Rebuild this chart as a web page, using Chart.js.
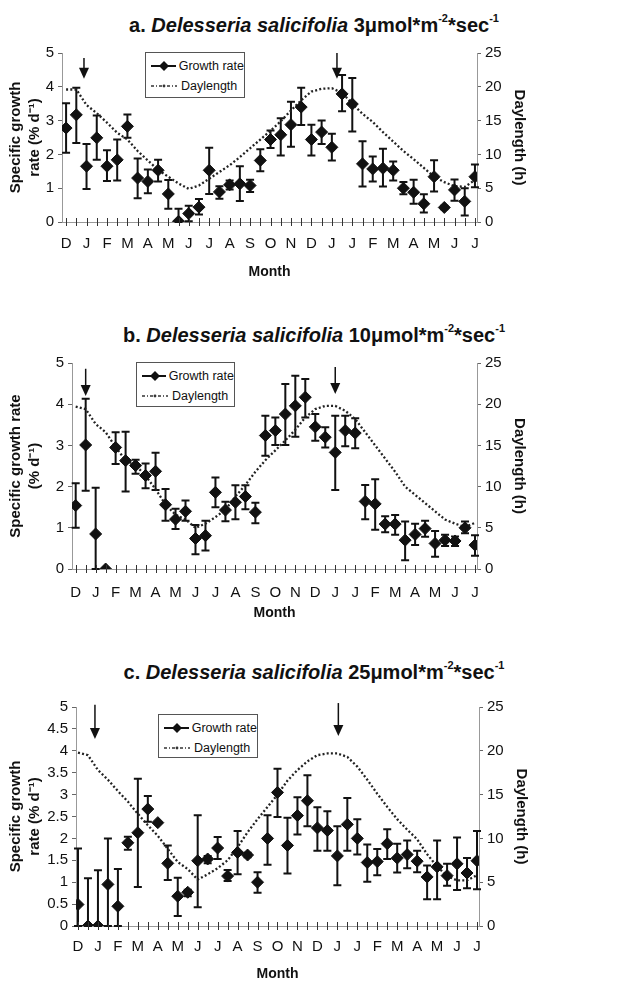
<!DOCTYPE html>
<html>
<head>
<meta charset="utf-8">
<script src="https://cdn.jsdelivr.net/npm/chart.js@4.4.0/dist/chart.umd.min.js"></script>
<style>
  body { margin: 0; background: #fff; width: 634px; height: 983px; position: relative; overflow: hidden;
         font-family: "Liberation Sans", Arial, sans-serif; color: #111; }
  .wrap { position: absolute; left: 0; width: 634px; }
  .title { position: absolute; left: 0; width: 628px; text-align: center; font-weight: bold; font-size: 20px; line-height: 22px; }
  .title sup { font-size: 11px; line-height: 0; position: relative; top: -2px; }
  .legend { position: absolute; border: 1px solid #555; background: #fff; font-size: 12.5px; box-sizing: border-box; padding: 3px 0 0 4px; }
  .legend div { height: 20px; display: flex; align-items: center; white-space: nowrap; }
  .legend svg { margin-right: 3px; }
</style>
</head>
<body>
<script>
// x axis: one point every half month, a letter on every second one
const monthLabels = ['D','J','F','M','A','M','J','J','A','S','O','N','D','J','J','F','M','A','M','J','J'];

// a. 3 umol
const growthA = [2.78, 3.17, 1.65, 2.49, 1.65, 1.84, 2.83, 1.30, 1.20, 1.53, 0.83, 0.02, 0.25, 0.44, 1.53, 0.89, 1.10, 1.13, 1.08, 1.82, 2.44,
                 2.58, 2.88, 3.40, 2.44, 2.66, 2.21, 3.79, 3.49, 1.72, 1.57, 1.59, 1.53, 1.00, 0.88, 0.54, 1.34, 0.43, 0.95, 0.61, 1.34];
const highA = [3.51, 3.97, 2.31, 3.15, 2.12, 2.44, 3.18, 1.88, 1.55, 1.84, 1.24, 0.39, 0.48, 0.68, 2.20, 1.06, 1.23, 1.65, 1.25, 2.15, 2.71,
               3.07, 3.56, 3.97, 2.88, 3.00, 2.61, 4.35, 4.26, 2.39, 1.94, 2.17, 1.79, 1.18, 1.25, 0.82, 1.83, 0.48, 1.26, 1.00, 1.70];
const lowA = [2.05, 2.34, 0.98, 1.84, 1.21, 1.23, 2.49, 0.70, 0.85, 1.20, 0.39, 0.00, 0.02, 0.22, 0.83, 0.69, 0.96, 0.62, 0.89, 1.50, 2.19,
              1.97, 2.23, 2.87, 1.97, 2.31, 1.82, 3.28, 2.68, 1.05, 1.20, 1.05, 1.23, 0.82, 0.54, 0.28, 0.90, 0.38, 0.63, 0.19, 1.03];
const dayA = [19.6, 19.6, 17.3, 16.1, 14.7, 13.2, 12.2, 10.5, 9.1, 7.7, 6.7, 5.7, 4.9, 5.4, 6.4, 7.4, 8.4, 9.6, 10.9, 12.2, 13.5,
              14.9, 16.5, 18.0, 19.3, 19.7, 19.8, 19.1, 17.5, 16.0, 14.8, 13.3, 11.9, 10.5, 9.3, 8.0, 6.7, 5.9, 5.3, 5.2, 6.2];

// b. 10 umol
const growthB = [1.54, 3.01, 0.85, 0.00, 2.95, 2.63, 2.51, 2.27, 2.37, 1.56, 1.21, 1.40, 0.74, 0.81, 1.86, 1.43, 1.62, 1.76, 1.38, 3.24, 3.36,
                 3.76, 3.96, 4.17, 3.45, 3.20, 2.83, 3.36, 3.30, 1.64, 1.58, 1.09, 1.09, 0.70, 0.84, 0.98, 0.62, 0.70, 0.68, 1.00, 0.58];
const highB = [2.08, 4.13, 1.97, null, 3.32, 3.33, 2.65, 2.56, 2.82, 1.94, 1.46, 1.66, 1.07, 1.17, 2.22, 1.63, 2.03, 2.03, 1.61, 3.72, 3.68,
               4.49, 4.69, 4.61, 3.76, 3.44, 3.72, 3.72, 3.66, 2.04, 2.18, 1.28, 1.31, 1.15, 1.10, 1.17, 0.92, 0.83, 0.79, 1.15, 0.82];
const lowB = [1.00, 1.90, 0.00, null, 2.55, 1.88, 2.31, 1.96, 1.92, 1.17, 0.97, 1.17, 0.36, 0.45, 1.50, 1.16, 1.21, 1.45, 1.11, 2.75, 3.01,
              3.01, 3.21, 3.68, 3.11, 2.95, 1.92, 2.98, 2.93, 1.21, 0.95, 0.89, 0.83, 0.21, 0.58, 0.78, 0.30, 0.56, 0.56, 0.87, 0.32];
const dayB = [19.7, 19.4, 17.6, 16.6, 14.8, 13.2, 12.6, 11.3, 9.7, 7.8, 6.6, 6.0, 5.0, 5.5, 6.3, 7.2, 8.8, 10.2, 11.8, 13.2, 14.4,
              15.6, 16.9, 18.4, 19.4, 19.8, 19.8, 19.2, 18.2, 16.6, 15.0, 13.4, 11.8, 10.0, 9.0, 8.0, 7.0, 6.0, 5.5, 5.1, 5.6];

// c. 25 umol
const growthC = [0.49, 0.00, 0.00, 0.95, 0.45, 1.90, 2.13, 2.67, 2.36, 1.43, 0.68, 0.77, 1.49, 1.53, 1.78, 1.14, 1.68, 1.62, 1.00, 2.00, 3.05,
                 1.84, 2.52, 2.86, 2.24, 2.18, 1.60, 2.32, 2.00, 1.45, 1.47, 1.88, 1.55, 1.63, 1.48, 1.12, 1.35, 1.15, 1.42, 1.21, 1.49];
const highC = [1.77, 1.09, 1.27, 2.00, 1.30, 2.04, 3.36, 2.97, null, 1.84, 1.10, 0.83, 2.53, 1.60, 2.03, 1.28, 2.17, 1.67, 1.23, 2.53, 3.59,
               2.47, 2.94, 3.44, 2.71, 2.62, 2.28, 2.92, 2.44, 1.86, 1.76, 2.21, 1.88, 1.95, 1.72, 1.38, 1.95, 1.42, 2.02, 1.55, 2.17];
const lowC = [0.00, 0.00, 0.00, 0.00, 0.00, 1.74, 0.89, 2.38, null, 1.05, 0.23, 0.68, 0.43, 1.43, 1.53, 1.03, 1.18, 1.57, 0.76, 1.40, 2.49,
              1.20, 2.09, 2.28, 1.72, 1.72, 0.93, 1.72, 1.63, 1.01, 1.16, 1.53, 1.22, 1.32, 1.23, 0.61, 0.61, 0.92, 0.82, 0.86, 0.84];
const dayC = [19.8, 19.5, 17.8, 16.7, 15.4, 14.2, 12.8, 11.5, 10.3, 8.8, 7.3, 6.5, 5.3, 5.9, 6.6, 7.5, 9.0, 10.7, 12.2, 13.6, 15.0,
              16.6, 17.8, 18.8, 19.5, 19.7, 19.7, 19.3, 18.2, 16.7, 15.1, 13.6, 12.2, 11.0, 9.9, 8.2, 6.8, 5.7, 5.2, 5.2, 5.8];

// arrows: [x index, tail value, tip value] on the growth axis
const arrowsA = [[1.75, 4.85, 4.24], [26.5, 5.0, 4.24]];
const arrowsB = [[1.0, 4.86, 4.2], [26.0, 4.9, 4.25]];
const arrowsC = [[1.7, 5.05, 4.27], [26.1, 5.09, 4.34]];

const INK = '#111';
const FONT = '"Liberation Sans", Arial, sans-serif';

const errorBars = {
    id: 'errorBars',
    beforeDatasetsDraw(chart) {
        const ds = chart.data.datasets[0];
        const x = chart.scales.x, y = chart.scales.y, ctx = chart.ctx;
        ctx.save();
        ctx.strokeStyle = INK;
        ctx.lineWidth = 2;
        ds.errHigh.forEach((hi, i) => {
            const lo = ds.errLow[i];
            if (hi == null) return;
            const px = x.getPixelForValue(i);
            const t = y.getPixelForValue(hi), b = y.getPixelForValue(lo);
            ctx.beginPath();
            ctx.moveTo(px, t); ctx.lineTo(px, b);
            ctx.moveTo(px - 4, t); ctx.lineTo(px + 4, t);
            ctx.moveTo(px - 4, b); ctx.lineTo(px + 4, b);
            ctx.stroke();
        });
        ctx.restore();
    }
};

// small crosses along the zero line, one per half month
const crossTicks = {
    id: 'crossTicks',
    afterDraw(chart) {
        const x = chart.scales.x, ctx = chart.ctx;
        const yb = chart.chartArea.bottom;
        ctx.save();
        ctx.strokeStyle = '#333';
        ctx.lineWidth = 1;
        for (let i = 0; i < monthLabels.length * 2 - 1; i++) {
            const px = Math.round(x.getPixelForValue(i)) + 0.5;
            ctx.beginPath();
            ctx.moveTo(px, yb - 4); ctx.lineTo(px, yb + 4);
            ctx.stroke();
        }
        ctx.restore();
    }
};

const arrows = {
    id: 'arrows',
    afterDraw(chart) {
        const x = chart.scales.x, y = chart.scales.y, ctx = chart.ctx;
        ctx.save();
        ctx.strokeStyle = INK;
        ctx.fillStyle = INK;
        ctx.lineWidth = 1.5;
        chart.options.arrowList.forEach(([xi, from, to]) => {
            const px = x.getPixelForValue(xi);
            const y0 = y.getPixelForValue(from), y1 = y.getPixelForValue(to);
            ctx.beginPath();
            ctx.moveTo(px, y0); ctx.lineTo(px, y1 - 8);
            ctx.stroke();
            ctx.beginPath();
            ctx.moveTo(px - 5, y1 - 11); ctx.lineTo(px + 5, y1 - 11); ctx.lineTo(px, y1);
            ctx.closePath();
            ctx.fill();
        });
        ctx.restore();
    }
};

function addTitle(top, letter, dose) {
    const d = document.createElement('div');
    d.className = 'title';
    d.style.top = top + 'px';
    d.innerHTML = letter + '. <i>Delesseria salicifolia</i> ' + dose + 'μmol*m<sup>-2</sup>*sec<sup>-1</sup>';
    document.body.appendChild(d);
}

function addLegend(left, top, w, h) {
    const d = document.createElement('div');
    d.className = 'legend';
    Object.assign(d.style, { left: left + 'px', top: top + 'px', width: w + 'px', height: h + 'px' });
    d.innerHTML =
        '<div><svg width="28" height="12"><line x1="1" y1="6" x2="27" y2="6" stroke="#111" stroke-width="2"/>' +
        '<polygon points="14,1 19,6 14,11 9,6" fill="#111"/></svg>Growth rate</div>' +
        '<div><svg width="28" height="12"><line x1="1" y1="6" x2="27" y2="6" stroke="#333" stroke-width="1.6" stroke-dasharray="3,2,1,2"/>' +
        '<circle cx="14" cy="6" r="1.4" fill="#333"/></svg>Daylength</div>';
    document.body.appendChild(d);
}

function makePanel(p) {
    const wrap = document.createElement('div');
    wrap.className = 'wrap';
    wrap.style.top = p.top + 'px';
    wrap.style.height = p.height + 'px';
    const canvas = document.createElement('canvas');
    canvas.width = 634;
    canvas.height = p.height;
    wrap.appendChild(canvas);
    document.body.appendChild(wrap);

    new Chart(canvas, {
        type: 'line',
        data: {
            datasets: [{
                label: 'Growth rate',
                data: p.growth.map((v, i) => ({ x: i, y: v })),
                errHigh: p.high,
                errLow: p.low,
                yAxisID: 'y',
                showLine: false,
                pointStyle: 'rectRot',
                pointRadius: 6,
                pointBackgroundColor: INK,
                pointBorderColor: INK,
                pointBorderWidth: 1,
                order: 0
            }, {
                label: 'Daylength',
                data: p.day.map((v, i) => ({ x: i, y: v })),
                yAxisID: 'y1',
                borderColor: '#222',
                borderWidth: 2.3,
                borderDash: [2, 2.2],
                pointRadius: 0,
                tension: 0,
                order: 1
            }]
        },
        options: {
            responsive: false,
            animation: false,
            arrowList: p.arrows,
            layout: { padding: { top: 12, left: 0, right: p.padRight, bottom: 0 } },
            plugins: { legend: { display: false }, tooltip: { enabled: false } },
            scales: {
                x: {
                    type: 'linear',
                    min: p.xmin,
                    max: 40.2,
                    grid: { display: false },
                    border: { color: '#999', width: 1 },
                    ticks: {
                        stepSize: 1,
                        includeBounds: false,
                        autoSkip: false,
                        maxRotation: 0,
                        padding: p.tickPad,
                        color: INK,
                        font: { family: FONT, size: 15 },
                        callback: v => (Math.round(v) % 2 === 0 ? monthLabels[Math.round(v) / 2] : '')
                    },
                    title: {
                        display: true, text: 'Month', color: INK,
                        font: { family: FONT, size: 14, weight: 'bold' },
                        padding: { top: 0, bottom: p.monthPad }
                    },
                    afterFit: s => { s.height = p.xHeight; }
                },
                y: {
                    position: 'left',
                    min: 0, max: 5,
                    grid: { drawOnChartArea: false, tickLength: 4, color: '#666' },
                    border: { color: '#999', width: 1, dash: [5, 2, 1, 2] },
                    ticks: { stepSize: p.yStep, padding: 4, color: INK, font: { family: FONT, size: 15 },
                             callback: v => String(Math.round(v * 10) / 10) },
                    title: {
                        display: true, text: p.yTitle, color: INK,
                        font: { family: FONT, size: 15, weight: 'bold', lineHeight: 1.3 },
                        padding: { top: 6, bottom: 0 }
                    },
                    afterFit: s => { s.width = p.leftW; }
                },
                y1: {
                    position: 'right',
                    min: 0, max: 25,
                    grid: { drawOnChartArea: false, tickLength: 4, color: '#666' },
                    border: { color: '#999', width: 1, dash: [5, 2, 1, 2] },
                    ticks: { stepSize: 5, padding: 4, color: INK, font: { family: FONT, size: 15 } },
                    title: {
                        display: true, text: 'Daylength (h)', color: INK,
                        font: { family: FONT, size: 15, weight: 'bold' },
                        padding: { top: 7, bottom: 0 }
                    },
                    afterFit: s => { s.width = 58; }
                }
            }
        },
        plugins: [errorBars, crossTicks, arrows]
    });
}

makePanel({ top: 40, height: 245, growth: growthA, high: highA, low: lowA, day: dayA, arrows: arrowsA,
            xmin: -0.4, leftW: 62, padRight: 99, xHeight: 63, tickPad: 5, monthPad: 4, yStep: 1,
            yTitle: ['Specific growth', 'rate (% d⁻¹)'] });
makePanel({ top: 350, height: 276, growth: growthB, high: highB, low: lowB, day: dayB, arrows: arrowsB,
            xmin: -0.37, leftW: 72, padRight: 99, xHeight: 57, tickPad: 7, monthPad: 4, yStep: 0.5,
            yTitle: ['Specific growth rate', '(% d⁻¹)'] });
makePanel({ top: 694, height: 289, growth: growthC, high: highC, low: lowC, day: dayC, arrows: arrowsC,
            xmin: -0.2, leftW: 76, padRight: 97, xHeight: 57, tickPad: 4, monthPad: 0, yStep: 0.5,
            yTitle: ['Specific growth', 'rate (% d⁻¹)'] });

addTitle(14, 'a', '3');
addTitle(324, 'b', '10');
addTitle(661, 'c', '25');
addLegend(145, 52, 100, 46);
addLegend(136, 362, 99, 45);
addLegend(158, 714, 100, 44);
</script>
</body>
</html>
